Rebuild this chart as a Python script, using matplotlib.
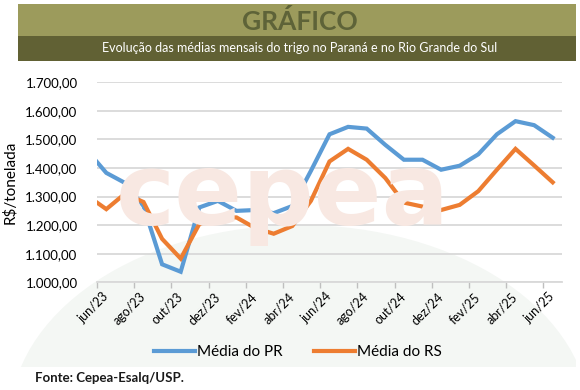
import matplotlib.pyplot as plt
from matplotlib.patches import Rectangle, Circle
import numpy as np

# meses (mai/23 fica fora da area visivel, so para o inicio da linha)
meses = ["mai/23", "jun/23", "jul/23", "ago/23", "set/23", "out/23", "nov/23", "dez/23",
         "jan/24", "fev/24", "mar/24", "abr/24", "mai/24", "jun/24", "jul/24", "ago/24",
         "set/24", "out/24", "nov/24", "dez/24", "jan/25", "fev/25", "mar/25", "abr/25",
         "mai/25", "jun/25"]
media_pr = [1459, 1383, 1348, 1267, 1063, 1037, 1262, 1285, 1250, 1253, 1242, 1267, 1390,
            1518, 1544, 1538, 1481, 1429, 1429, 1394, 1408, 1448, 1518, 1564, 1550, 1506]
media_rs = [1302, 1256, 1310, 1281, 1152, 1083, 1204, 1227, 1227, 1190, 1170, 1197, 1285,
            1423, 1467, 1429, 1365, 1279, 1265, 1253, 1271, 1319, 1394, 1467, 1409, 1350]
yticks = [1000, 1100, 1200, 1300, 1400, 1500, 1600, 1700]

plt.rcParams['font.family'] = ['Lato', 'DejaVu Sans']

W, H = 580, 390
fig = plt.figure(figsize=(5.8, 3.9), dpi=100)

def fx(px): return px / W
def fy(py): return 1 - py / H

# fundo / marca d'agua
area = Rectangle((fx(9), fy(367)), fx(567), 306 / H, transform=fig.transFigure,
                 facecolor='none', edgecolor='none')
fig.add_artist(area)
circ = Circle((fx(300), fy(420)), 0.5, transform=fig.transFigure,
              facecolor='#f4f7f4', edgecolor='none', zorder=0)
fig.add_artist(circ)
circ.set_clip_path(area)
fig.add_artist(Rectangle((fx(18), fy(61)), fx(558), 25 / H, transform=fig.transFigure,
                         facecolor='#616134', edgecolor='none', zorder=1))
fig.add_artist(Rectangle((fx(18), fy(36)), fx(558), 31.5 / H, transform=fig.transFigure,
                         facecolor='#9c9b5c', edgecolor='none', zorder=1))
fig.text(fx(300), fy(21), "GRÁFICO", ha='center', va='center', fontsize=19,
         fontweight='bold', color='#5e6338', zorder=2)
fig.text(fx(300), fy(48), "Evolução das médias mensais do trigo no Paraná e no Rio Grande do Sul",
         ha='center', va='center', fontsize=9, color='white', zorder=2)
fig.text(fx(283), fy(225), "cepea", ha='center', va='baseline', fontsize=72,
         fontweight='bold', family='DejaVu Sans', color='#f8e8e2', zorder=0)

ax = fig.add_axes([fx(97), fy(282.3), fx(465), 200 / H])
ax.set_facecolor('none')

x = np.arange(len(meses)) - 1
ax.plot(x, media_pr, color='#5b9bd5', lw=3, label='Média do PR', solid_joinstyle='miter')
ax.plot(x, media_rs, color='#ed7d31', lw=3, label='Média do RS', solid_joinstyle='miter')

ax.set_xlim(-0.5, 24.5)
ax.set_ylim(1000, 1700)
ax.set_yticks(yticks)
ax.set_yticklabels([f"{v:,.2f}".replace(",", "X").replace(".", ",").replace("X", ".") for v in yticks])
ax.grid(axis='y', color='#d9d9d9', lw=1.3)
ax.set_axisbelow(True)

ax.set_xticks(np.arange(-0.5, 24, 2))
ax.set_xticklabels([])
ax.set_xticks(np.arange(0, 25, 2), minor=True)
ax.set_xticklabels(meses[1::2], minor=True, rotation=45, ha='right', va='center',
                   rotation_mode='anchor', fontsize=9)
ax.tick_params(axis='x', which='major', length=4, color='#bfbfbf', width=1)
ax.tick_params(axis='x', which='minor', length=0, pad=9)
ax.tick_params(axis='y', length=0, pad=14, labelsize=9.5)

for s in ['top', 'right', 'left']:
    ax.spines[s].set_visible(False)
ax.spines['bottom'].set_color('#d9d9d9')
ax.spines['bottom'].set_linewidth(1.3)

ax.set_ylabel("R$/tonelada", fontsize=11, labelpad=6)

fig.legend(loc='center', bbox_to_anchor=(fx(298), fy(352)), ncol=2, frameon=False,
           fontsize=11, handlelength=2.7, handletextpad=0.15, columnspacing=2.0)

fig.text(fx(35), fy(378), "Fonte: Cepea-Esalq/USP.", ha='left', va='center', fontsize=9.5,
         fontweight='bold', color='#1a1a1a')

fig.savefig("out.png", dpi=100)
